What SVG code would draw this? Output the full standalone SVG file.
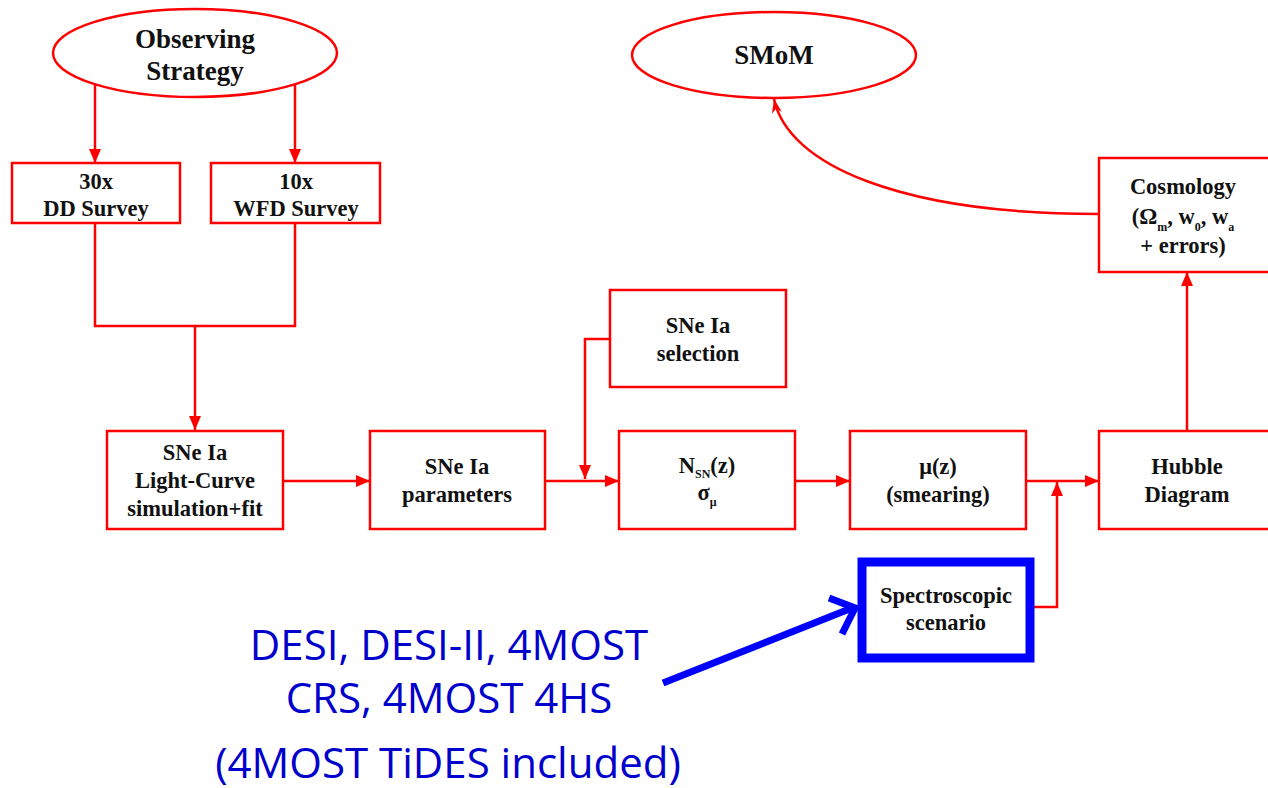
<svg xmlns="http://www.w3.org/2000/svg" width="1268" height="788" viewBox="0 0 1268 788">
<style>
.node{fill:#fff;stroke:#ff0000;stroke-width:2.5}
.t{font-family:"Liberation Serif","Times New Roman",serif;font-weight:bold;font-size:22.5px;fill:#111;text-anchor:middle}
.big{font-size:27px}
.sub{font-size:12px}
.conn{fill:none;stroke:#ff0000;stroke-width:2.5}
.blue{font-family:"Open Sans","Noto Sans",sans-serif;font-size:42px;fill:#0000cc;text-anchor:middle}
</style>
<defs>
<marker id="ah" viewBox="0 0 14 12" refX="14" refY="6" markerWidth="14" markerHeight="12" markerUnits="userSpaceOnUse" orient="auto"><path d="M0,0 L14,6 L0,12 z" fill="#ff0000"/></marker>
<marker id="ah2" viewBox="0 0 14 10" refX="14" refY="5" markerWidth="14" markerHeight="10" markerUnits="userSpaceOnUse" orient="auto"><path d="M0,0 L14,5 L0,10 L4,5 z" fill="#ff0000"/></marker>
</defs>
<rect width="1268" height="788" fill="#fff"/>
<g id="connectors">
<line class="conn" x1="95" y1="84" x2="95" y2="163" marker-end="url(#ah)"/>
<line class="conn" x1="295" y1="84" x2="295" y2="163" marker-end="url(#ah)"/>
<polyline class="conn" points="95,223 95,326 295,326 295,223"/>
<line class="conn" x1="195" y1="326" x2="195" y2="430" marker-end="url(#ah)"/>
<line class="conn" x1="283" y1="481" x2="370" y2="481" marker-end="url(#ah)"/>
<line class="conn" x1="545" y1="481" x2="619" y2="481" marker-end="url(#ah)"/>
<polyline class="conn" points="610,339 585,339 585,479" marker-end="url(#ah)"/>
<line class="conn" x1="795" y1="481" x2="850" y2="481" marker-end="url(#ah)"/>
<line class="conn" x1="1026" y1="481" x2="1099" y2="481" marker-end="url(#ah)"/>
<polyline class="conn" points="1034,607 1057,607 1057,482" marker-end="url(#ah)"/>
<line class="conn" x1="1187" y1="431" x2="1187" y2="272" marker-end="url(#ah)"/>
<path class="conn" d="M1099,214 C 900,214 788,165 774,99" marker-end="url(#ah2)"/>
<line x1="663" y1="683" x2="852" y2="608" stroke="#0000ff" stroke-width="7"/>
<polyline points="829,598 855,608 842,634" fill="none" stroke="#0000ff" stroke-width="7"/>
</g>
<g id="observing">
<ellipse class="node" cx="195" cy="53" rx="142" ry="44"/>
<text class="t big" x="195" y="48">Observing</text>
<text class="t big" x="195" y="80">Strategy</text>
</g>
<g id="smom">
<ellipse class="node" cx="774" cy="55" rx="142" ry="43"/>
<text class="t big" x="774" y="64">SMoM</text>
</g>
<g id="dd">
<rect class="node" x="12" y="163" width="168" height="60"/>
<text class="t" x="96" y="189">30x</text>
<text class="t" x="96" y="216">DD Survey</text>
</g>
<g id="wfd">
<rect class="node" x="211" y="163" width="169" height="60"/>
<text class="t" x="296" y="189">10x</text>
<text class="t" x="296" y="216">WFD Survey</text>
</g>
<g id="lightcurve">
<rect class="node" x="107" y="431" width="176" height="98"/>
<text class="t" x="195" y="460">SNe Ia</text>
<text class="t" x="195" y="488">Light-Curve</text>
<text class="t" x="195" y="516">simulation+fit</text>
</g>
<g id="params">
<rect class="node" x="370" y="431" width="175" height="98"/>
<text class="t" x="457" y="474">SNe Ia</text>
<text class="t" x="457" y="502">parameters</text>
</g>
<g id="selection">
<rect class="node" x="610" y="290" width="176" height="97"/>
<text class="t" x="698" y="333">SNe Ia</text>
<text class="t" x="698" y="361">selection</text>
</g>
<g id="nsn">
<rect class="node" x="619" y="431" width="176" height="98"/>
<text class="t" x="707" y="473">N<tspan class="sub" dy="5">SN</tspan><tspan dy="-5">(z)</tspan></text>
<text class="t" x="707" y="500">σ<tspan class="sub" dy="6">μ</tspan></text>
</g>
<g id="muz">
<rect class="node" x="850" y="431" width="176" height="98"/>
<text class="t" x="938" y="474">μ(z)</text>
<text class="t" x="938" y="502">(smearing)</text>
</g>
<g id="hubble">
<rect class="node" x="1099" y="431" width="176" height="98"/>
<text class="t" x="1187" y="474">Hubble</text>
<text class="t" x="1187" y="502">Diagram</text>
</g>
<g id="cosmology">
<rect class="node" x="1099" y="158" width="176" height="114"/>
<text class="t" x="1183" y="194">Cosmology</text>
<text class="t" x="1183" y="224">(Ω<tspan class="sub" dy="7">m</tspan><tspan dy="-7">, w</tspan><tspan class="sub" dy="7">0</tspan><tspan dy="-7">, w</tspan><tspan class="sub" dy="7">a</tspan></text>
<text class="t" x="1183" y="253">+ errors)</text>
</g>
<g id="spectroscopic">
<rect x="862" y="562" width="168" height="96" fill="#fff" stroke="#0000ff" stroke-width="9"/>
<text class="t" x="946" y="603">Spectroscopic</text>
<text class="t" x="946" y="630">scenario</text>
</g>
<g id="note">
<text class="blue" x="449" y="660">DESI, DESI-II, 4MOST</text>
<text class="blue" x="449" y="713">CRS, 4MOST 4HS</text>
<text class="blue" x="448" y="778">(4MOST TiDES included)</text>
</g>
</svg>
